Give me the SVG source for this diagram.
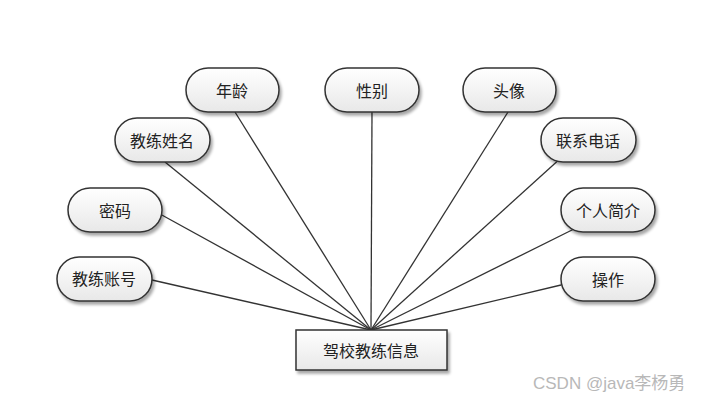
<svg xmlns="http://www.w3.org/2000/svg" width="714" height="401" viewBox="0 0 714 401">
<defs>
<linearGradient id="g" x1="0" y1="0" x2="0" y2="1">
<stop offset="0" stop-color="#ffffff"/>
<stop offset="1" stop-color="#e8e8e8"/>
</linearGradient>
<filter id="sh" x="-20%" y="-20%" width="150%" height="160%">
<feGaussianBlur in="SourceAlpha" stdDeviation="1.5"/>
<feOffset dx="2" dy="3" result="b"/>
<feComponentTransfer><feFuncA type="linear" slope="0.35"/></feComponentTransfer>
<feMerge><feMergeNode/><feMergeNode in="SourceGraphic"/></feMerge>
</filter>
</defs>
<style>
.n{fill:url(#g);stroke:#333;stroke-width:1.5;filter:url(#sh)}
.t{font-family:"Noto Sans CJK SC","Liberation Sans",sans-serif;font-size:16px;fill:#222;text-anchor:middle;dominant-baseline:central}
.c{stroke:#333;stroke-width:1.3;fill:none}
</style>
<rect width="714" height="401" fill="#fff"/>
<g id="connectors">
<line class="c" x1="235" y1="112" x2="371" y2="330"/>
<line class="c" x1="372" y1="112" x2="371" y2="330"/>
<line class="c" x1="508" y1="112" x2="371" y2="330"/>
<line class="c" x1="165" y1="162" x2="371" y2="330"/>
<line class="c" x1="562" y1="157" x2="371" y2="330"/>
<line class="c" x1="160" y1="214" x2="371" y2="330"/>
<line class="c" x1="574" y1="229" x2="371" y2="330"/>
<line class="c" x1="152" y1="280" x2="371" y2="330"/>
<line class="c" x1="561" y1="285" x2="371" y2="330"/>
</g>
<g id="n-age"><rect class="n" x="186" y="68" width="93" height="44" rx="22"/><text class="t" x="232" y="90">年龄</text></g>
<g id="n-sex"><rect class="n" x="325" y="68" width="94" height="44" rx="22"/><text class="t" x="372" y="90">性别</text></g>
<g id="n-avatar"><rect class="n" x="463" y="68" width="93" height="44" rx="22"/><text class="t" x="509" y="90">头像</text></g>
<g id="n-name"><rect class="n" x="115" y="118" width="95" height="44" rx="22"/><text class="t" x="162" y="140">教练姓名</text></g>
<g id="n-phone"><rect class="n" x="541" y="118" width="95" height="44" rx="22"/><text class="t" x="588" y="140">联系电话</text></g>
<g id="n-pwd"><rect class="n" x="68" y="188" width="94" height="44" rx="22"/><text class="t" x="115" y="210">密码</text></g>
<g id="n-intro"><rect class="n" x="561" y="188" width="94" height="44" rx="22"/><text class="t" x="608" y="210">个人简介</text></g>
<g id="n-account"><rect class="n" x="57" y="257" width="95" height="44" rx="22"/><text class="t" x="104" y="278">教练账号</text></g>
<g id="n-op"><rect class="n" x="561" y="257" width="94" height="44" rx="22"/><text class="t" x="608" y="279">操作</text></g>
<g id="n-main"><rect class="n" x="296" y="330" width="151" height="40" rx="0"/><text class="t" x="371" y="350">驾校教练信息</text></g>
<text x="533" y="389" font-family="Liberation Sans,'Noto Sans CJK SC',sans-serif" font-size="17" fill="#b8b8b8">CSDN @java李杨勇</text>
</svg>
